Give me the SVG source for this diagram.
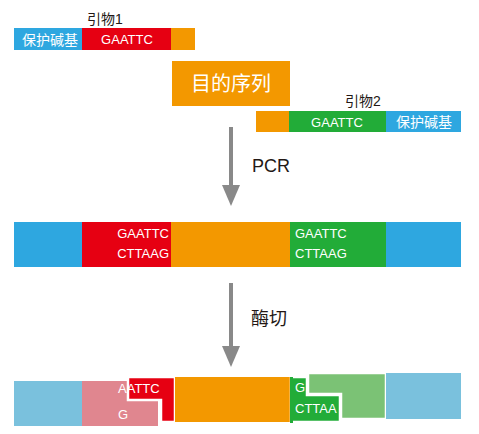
<svg xmlns="http://www.w3.org/2000/svg" width="479" height="434" viewBox="0 0 479 434">
<style>
.t{font-family:"Liberation Sans","Noto Sans CJK SC",sans-serif;font-size:13px;fill:#fff}
.k{font-family:"Liberation Sans","Noto Sans CJK SC",sans-serif;fill:#231815}
.cut{stroke:#fff;stroke-width:2.5}
.shaft{stroke:#898989;stroke-width:4}
.head{fill:#898989}
</style>
<g id="primer1">
<rect x="14" y="28" width="68" height="22" fill="#2ea7e0"/>
<rect x="82" y="28" width="89" height="22" fill="#e60012"/>
<rect x="171" y="28" width="24" height="22" fill="#f39800"/>
<text class="k" x="105" y="24" style="font-size:14px" text-anchor="middle">引物1</text>
<text class="t" x="50" y="44.5" text-anchor="middle" style="font-size:14px">保护碱基</text>
<text class="t" x="127" y="44" text-anchor="middle">GAATTC</text>
</g>
<g id="target">
<rect x="172" y="61" width="118" height="45" fill="#f39800"/>
<text class="t" x="231" y="91" text-anchor="middle" style="font-size:20px">目的序列</text>
</g>
<g id="primer2">
<rect x="256" y="111" width="33" height="21" fill="#f39800"/>
<rect x="289" y="111" width="97" height="21" fill="#22ac38"/>
<rect x="386" y="111" width="75" height="21" fill="#2ea7e0"/>
<text class="k" x="363" y="106" style="font-size:14px" text-anchor="middle">引物2</text>
<text class="t" x="337" y="126.5" text-anchor="middle">GAATTC</text>
<text class="t" x="424" y="127" text-anchor="middle" style="font-size:14px">保护碱基</text>
</g>
<g id="pcr-product">
<rect x="14" y="222" width="68" height="45" fill="#2ea7e0"/>
<rect x="82" y="222" width="89" height="45" fill="#e60012"/>
<rect x="171" y="222" width="119" height="45" fill="#f39800"/>
<rect x="290" y="222" width="96" height="45" fill="#22ac38"/>
<rect x="386" y="222" width="75" height="45" fill="#2ea7e0"/>
<text class="t" x="169" y="238" text-anchor="end">GAATTC</text>
<text class="t" x="169" y="258" text-anchor="end">CTTAAG</text>
<text class="t" x="295" y="238">GAATTC</text>
<text class="t" x="295" y="258">CTTAAG</text>
</g>
<g id="digest">
<rect x="14" y="381" width="68" height="45" fill="#7ac1dd"/>
<rect x="82" y="381" width="76" height="45" fill="#e0868f"/>
<path class="cut" d="M128,377 H175 V422 H161 V400 H128 Z" fill="#e60012"/>
<rect x="175" y="377" width="116" height="45" fill="#f39800"/>
<path class="cut" d="M308,373 H386 V419 H341 V394 H308 Z" fill="#7bc275"/>
<rect x="386" y="373" width="75" height="46" fill="#7ac1dd"/>
<path class="cut" d="M291,377 H307 V395 H340 V422 H291 Z" fill="#22ac38"/>
<rect x="290" y="377" width="3" height="46" fill="#22ac38"/>
<text class="t" x="118" y="393">AATTC</text>
<text class="t" x="118" y="419">G</text>
<text class="t" x="295" y="392">G</text>
<text class="t" x="295" y="413">CTTAA</text>
</g>
<g id="connectors">
<line class="shaft" x1="231" y1="127" x2="231" y2="190"/>
<polygon class="head" points="222,185 240,185 231,206"/>
<line class="shaft" x1="231" y1="283" x2="231" y2="350"/>
<polygon class="head" points="222,346 240,346 231,367"/>
<text class="k" x="252" y="172" style="font-size:18px">PCR</text>
<text class="k" x="251" y="325" style="font-size:18px">酶切</text>
</g>
</svg>
